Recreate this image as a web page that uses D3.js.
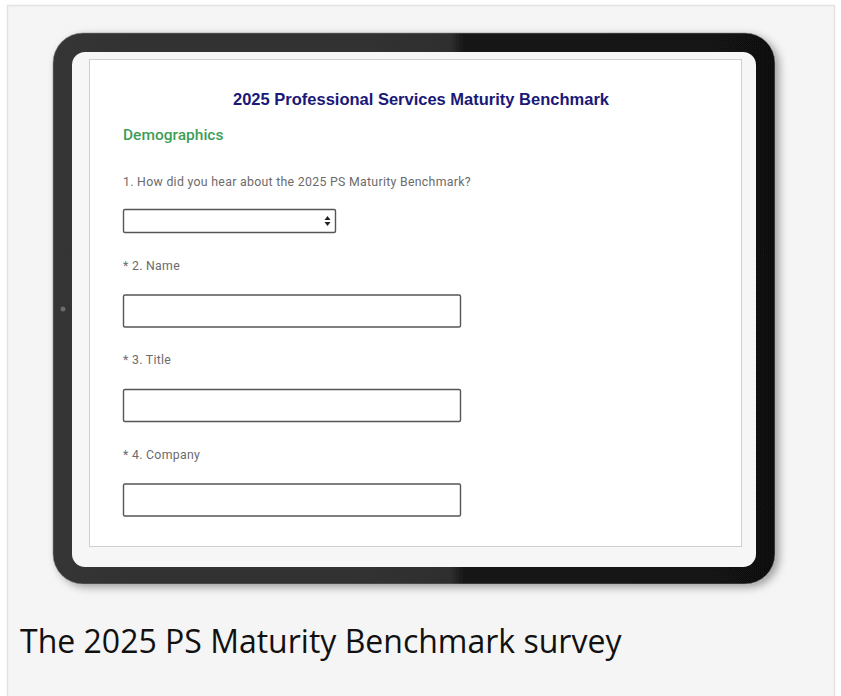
<html>
  <head>
    <style>
      body { margin: 0; background: #fff; }
      text { font-family: "Liberation Sans", Arial, sans-serif; }
    </style>
  </head>
  <body>
    <script src="https://d3js.org/d3.v7.min.js"></script>
    <script>
    var width = 841, height = 696;

    // survey content
    var surveyTitle = "2025 Professional Services Maturity Benchmark";
    var sectionName = "Demographics";
    var questions = ["1. How did you hear about the 2025 PS Maturity Benchmark?", "* 2. Name", "* 3. Title", "* 4. Company"];
    var fieldTypes = ["select", "input", "input", "input"];
    var nextQuestion = "* 5. Do you have a PS Maturity Benchmark report from a previous year?";
    var caption = "The 2025 PS Maturity Benchmark survey";

    var svg = d3.select("body").append("svg")
        .attr("width", width)
        .attr("height", height);

    var defs = svg.append("defs");

    var shadow = defs.append("filter").attr("id", "shadow")
        .attr("x", "-10%").attr("y", "-10%").attr("width", "120%").attr("height", "120%");
    shadow.append("feDropShadow")
        .attr("dx", 4).attr("dy", 3).attr("stdDeviation", 4)
        .attr("flood-color", "#000").attr("flood-opacity", 0.35);

    var frameGrad = defs.append("linearGradient").attr("id", "frameGrad")
        .attr("x1", "0%").attr("x2", "100%").attr("y1", "0%").attr("y2", "0%");
    frameGrad.append("stop").attr("offset", "0%").attr("stop-color", "#343434");
    frameGrad.append("stop").attr("offset", "55%").attr("stop-color", "#2f2f2f");
    frameGrad.append("stop").attr("offset", "57%").attr("stop-color", "#161616");
    frameGrad.append("stop").attr("offset", "100%").attr("stop-color", "#111");

    defs.append("clipPath").attr("id", "screenClip")
      .append("rect").attr("x", 89).attr("y", 59).attr("width", 653).attr("height", 488);

    // page card
    svg.append("rect")
        .attr("x", 7.5).attr("y", 5.5)
        .attr("width", 827).attr("height", 700)
        .attr("fill", "#f5f5f5")
        .attr("stroke", "#e2e2e2")
        .attr("stroke-width", 1.5);

    // tablet body
    var tablet = svg.append("g");
    tablet.append("rect")
        .attr("x", 53).attr("y", 33)
        .attr("width", 722).attr("height", 551)
        .attr("rx", 30).attr("ry", 30)
        .attr("fill", "url(#frameGrad)")
        .attr("stroke", "#8a8a8a")
        .attr("stroke-width", 0.6)
        .attr("filter", "url(#shadow)");
    tablet.append("rect")
        .attr("x", 72).attr("y", 52)
        .attr("width", 684).attr("height", 515)
        .attr("rx", 13).attr("ry", 13)
        .attr("fill", "#f6f6f6");
    tablet.append("circle")
        .attr("cx", 63).attr("cy", 309).attr("r", 2.5)
        .attr("fill", "#6a6a6a");

    // screen
    var screen = svg.append("g").attr("clip-path", "url(#screenClip)");
    screen.append("rect")
        .attr("x", 89.5).attr("y", 59.5)
        .attr("width", 652).attr("height", 487)
        .attr("fill", "#fff")
        .attr("stroke", "#cfcfcf")
        .attr("stroke-width", 1);

    screen.append("text")
        .attr("x", 421).attr("y", 105)
        .attr("text-anchor", "middle")
        .attr("font-size", 16.5)
        .attr("font-weight", "bold")
        .attr("fill", "#1a1878")
        .text(surveyTitle);

    screen.append("text")
        .attr("x", 123).attr("y", 140)
        .style("font-family", "Roboto, sans-serif")
        .attr("font-size", 15.5)
        .attr("font-weight", 500)
        .attr("fill", "#3f9d57")
        .text(sectionName);

    // stack question labels and fields downwards
    var boxH = { select: 23, input: 32 };
    var boxW = { select: 212, input: 337 };
    var layout = [];
    var yy = 186;
    questions.forEach(function(q, i) {
      var t = fieldTypes[i];
      var top = yy + (t === "select" ? 23 : 25);
      layout.push({ label: q, type: t, labelY: yy, top: top });
      yy = top + boxH[t] + 37.5;
    });

    var q = screen.selectAll("g.q")
        .data(layout)
        .enter().append("g")
          .attr("class", "q");

    q.append("text")
        .attr("x", 123)
        .attr("y", function(d) { return d.labelY; })
        .style("font-family", "Roboto, sans-serif")
        .style("letter-spacing", "0.3px")
        .attr("font-size", 12.3)
        .attr("fill", "#6b6b6b")
        .text(function(d) { return d.label; });

    q.append("rect")
        .attr("x", 123.5)
        .attr("y", function(d) { return d.top + 0.5; })
        .attr("width", function(d) { return boxW[d.type]; })
        .attr("height", function(d) { return boxH[d.type]; })
        .attr("rx", 1.5)
        .attr("fill", "#fff")
        .attr("stroke", "#555")
        .attr("stroke-width", 1.4);

    // up / down arrows of the select box
    q.filter(function(d) { return d.type === "select"; })
      .append("path")
        .attr("d", function(d) {
          var cx = 123.5 + boxW.select - 8, cy = d.top + boxH.select / 2 + 0.5;
          return "M" + (cx - 3) + "," + (cy - 1) + "L" + cx + "," + (cy - 5) + "L" + (cx + 3) + "," + (cy - 1) + "Z" +
                 "M" + (cx - 3) + "," + (cy + 1) + "L" + cx + "," + (cy + 5) + "L" + (cx + 3) + "," + (cy + 1) + "Z";
        })
        .attr("fill", "#222");

    // next question, cut off by the screen edge
    screen.append("text")
        .attr("x", 123).attr("y", yy + 2.5)
        .style("font-family", "Roboto, sans-serif")
        .style("letter-spacing", "0.3px")
        .attr("font-size", 12.3)
        .attr("fill", "#d0d0d0")
        .text(nextQuestion);

    // caption
    svg.append("text")
        .attr("x", 20).attr("y", 653)
        .style("font-family", "'Open Sans', sans-serif")
        .attr("font-size", 32)
        .attr("fill", "#111")
        .text(caption);
    </script>
  </body>
</html>
